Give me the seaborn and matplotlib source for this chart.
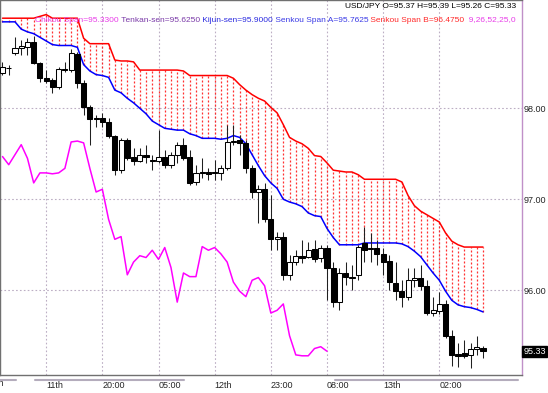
import numpy as np
import pandas as pd
import matplotlib
matplotlib.use("Agg")
import matplotlib.pyplot as plt
import seaborn as sns
from matplotlib.lines import Line2D

# ---------------- data (USD/JPY, Ichimoku) ----------------
opens = [98.39, 98.44, 98.61, 98.66, 98.67, 98.73, 98.50, 98.33, 98.31, 98.23,
         98.43, 98.42, 98.60, 98.28, 98.01, 97.89, 97.89, 97.85, 97.70, 97.32,
         97.65, 97.47, 97.42, 97.49, 97.43, 97.42, 97.47, 97.38, 97.49, 97.60,
         97.47, 97.19, 97.30, 97.30, 97.30, 97.29, 97.34, 97.63, 97.65, 97.62,
         97.34, 97.08, 97.11, 96.78, 96.56, 96.59, 96.17, 96.31, 96.38, 96.37,
         96.45, 96.36, 96.47, 96.25, 95.87, 96.19, 96.14, 96.17, 96.52, 96.45,
         96.47, 96.40, 96.32, 96.08, 95.99, 95.93, 96.11, 96.14, 96.05, 95.75,
         95.77, 95.85, 95.50, 95.30, 95.31, 95.29, 95.36, 95.37]
highs = [98.51, 98.48, 98.78, 98.75, 98.77, 98.79, 98.51, 98.42, 98.33, 98.45,
         98.51, 98.65, 98.62, 98.31, 98.04, 97.93, 97.95, 97.89, 97.71, 97.67,
         97.67, 97.56, 97.56, 97.60, 97.49, 97.76, 97.54, 97.52, 97.63, 97.67,
         97.54, 97.38, 97.45, 97.34, 97.43, 97.38, 97.82, 97.82, 97.71, 97.65,
         97.38, 97.16, 97.18, 97.05, 96.64, 96.64, 96.39, 96.44, 96.55, 96.53,
         96.55, 96.50, 96.50, 96.31, 96.25, 96.31, 96.28, 96.50, 96.69, 96.63,
         96.55, 96.47, 96.39, 96.31, 96.11, 96.25, 96.25, 96.28, 96.11, 95.93,
         95.98, 95.89, 95.56, 95.42, 95.45, 95.42, 95.50, 95.39]
lows = [98.37, 98.37, 98.59, 98.59, 98.59, 98.49, 98.29, 98.28, 98.17, 98.21,
        98.40, 98.40, 98.22, 97.93, 97.60, 97.79, 97.79, 97.67, 97.27, 97.29,
        97.43, 97.38, 97.41, 97.40, 97.32, 97.40, 97.34, 97.34, 97.40, 97.43,
        97.16, 97.16, 97.23, 97.21, 97.21, 97.21, 97.32, 97.60, 97.49, 97.29,
        97.01, 96.74, 96.75, 96.44, 96.44, 96.11, 96.11, 96.28, 96.30, 96.36,
        96.31, 96.31, 95.89, 95.82, 95.78, 96.06, 96.00, 96.11, 96.31, 96.31,
        96.28, 96.17, 96.00, 95.89, 95.82, 95.89, 96.04, 96.00, 95.73, 95.72,
        95.74, 95.48, 95.17, 95.16, 95.26, 95.15, 95.29, 95.26]
closes = [98.45, 98.44, 98.66, 98.68, 98.73, 98.50, 98.33, 98.30, 98.23, 98.43,
          98.42, 98.61, 98.28, 98.01, 97.88, 97.88, 97.85, 97.70, 97.32, 97.65,
          97.45, 97.42, 97.49, 97.47, 97.42, 97.47, 97.38, 97.49, 97.60, 97.45,
          97.18, 97.29, 97.29, 97.28, 97.29, 97.34, 97.63, 97.64, 97.62, 97.34,
          97.08, 97.11, 96.78, 96.56, 96.59, 96.17, 96.31, 96.38, 96.36, 96.44,
          96.34, 96.47, 96.25, 95.87, 96.19, 96.15, 96.15, 96.48, 96.44, 96.47,
          96.40, 96.31, 96.09, 95.99, 95.93, 96.11, 96.14, 96.05, 95.75, 95.78,
          95.85, 95.50, 95.29, 95.28, 95.28, 95.36, 95.38, 95.33]
senkou_a = [98.95, 98.95, 98.95, 98.87, 98.84, 98.82, 98.78, 98.74, 98.70, 98.69,
            98.69, 98.69, 98.67, 98.48, 98.41, 98.37, 98.36, 98.34, 98.20, 98.17,
            98.11, 98.06, 98.00, 97.94, 97.86, 97.82, 97.78, 97.77, 97.76, 97.76,
            97.72, 97.70, 97.67, 97.67, 97.67, 97.66, 97.67, 97.70, 97.68, 97.61,
            97.49, 97.37, 97.26, 97.18, 97.12, 97.00, 96.97, 96.95, 96.92, 96.85,
            96.82, 96.81, 96.68, 96.58, 96.50, 96.50, 96.50, 96.50, 96.52, 96.52,
            96.52, 96.52, 96.52, 96.52, 96.51, 96.48, 96.43, 96.37, 96.28, 96.19,
            96.11, 95.99, 95.89, 95.84, 95.82, 95.81, 95.79, 95.7625]
senkou_b = [98.99, 98.99, 98.99, 98.99, 98.99, 98.99, 99.01, 99.03, 98.99, 98.99,
            98.99, 98.99, 98.99, 98.77, 98.71, 98.71, 98.71, 98.71, 98.53, 98.52,
            98.52, 98.51, 98.42, 98.42, 98.42, 98.42, 98.42, 98.42, 98.42, 98.41,
            98.36, 98.36, 98.36, 98.36, 98.36, 98.36, 98.36, 98.33, 98.26, 98.20,
            98.15, 98.11, 98.08, 98.01, 97.95, 97.82, 97.68, 97.64, 97.61, 97.56,
            97.48, 97.47, 97.40, 97.32, 97.31, 97.30, 97.30, 97.27, 97.22, 97.22,
            97.22, 97.22, 97.22, 97.22, 97.19, 97.04, 96.93, 96.87, 96.83, 96.79,
            96.75, 96.63, 96.54, 96.50, 96.475, 96.475, 96.475, 96.475]
chikou_shift = 25
tick_bars = [7, 16, 25, 34, 43, 52, 61, 70]
tick_labels = ["11th", "20:00", "05:00", "12th", "23:00", "08:00", "13th", "02:00"]
prev_label = ("10th", -2)
price_ticks = [96.0, 97.0, 98.0]
last_price = 95.33
header = "USD/JPY O=95.37 H=95.39 L=95.26 C=95.33"
legend_parts = [("Chikou Span=95.3300", "#e83ce8"),
                (" Tenkan-sen=95.6250", "#7a3aa8"),
                (" Kijun-sen=95.9000", "#2a2ae0"),
                (" Senkou Span A=95.7625", "#3a3ae6"),
                (" Senkou Span B=96.4750", "#ff2a2a"),
                ("  9,26,52,25,0", "#e83ce8")]

# ---------------- figure ----------------
sns.set_style("white")
plt.rcParams["font.family"] = ["Liberation Sans", "DejaVu Sans"]

W, H = 548, 393
fig = plt.figure(figsize=(W / 100, H / 100), dpi=100)
fig.patch.set_facecolor("white")
ax = fig.add_axes([0, 18 / H, 522 / W, 375 / H])

idx = np.arange(len(closes))
o = np.array(opens); c = np.array(closes)
hi = np.array(highs); lo = np.array(lows)

# cloud hatch
ax.vlines(idx, senkou_a, senkou_b, colors="#ff1a1a", linestyles=(0, (1.6, 1.6)),
          lw=0.9, zorder=1, alpha=0.9)

df = pd.DataFrame({"bar": idx, "a": senkou_a, "b": senkou_b})
sns.lineplot(data=df, x="bar", y="b", color="#ff0000", lw=1.1, ax=ax, zorder=2)
sns.lineplot(data=df, x="bar", y="a", color="#0000ff", lw=1.1, ax=ax, zorder=2)
ch = pd.DataFrame({"bar": idx[:-chikou_shift], "c": c[chikou_shift:]})
sns.lineplot(data=ch, x="bar", y="c", color="#ff00ff", lw=1.1, ax=ax, zorder=2)

# candles
ax.vlines(idx, lo, hi, colors="#202020", lw=0.75, zorder=3)
up = c >= o
bot = np.minimum(o, c); hgt = np.abs(c - o)
ax.bar(idx[up], hgt[up], bottom=bot[up], width=0.82, facecolor="white",
       edgecolor="black", lw=0.75, zorder=4)
ax.bar(idx[~up], hgt[~up], bottom=bot[~up], width=0.82, facecolor="black",
       edgecolor="black", lw=0.75, zorder=4)

ax.set_xlim(-0.4, 83.25)
ax.set_ylim(95.069, 99.19)
ax.set_xlabel(""); ax.set_ylabel("")

ax.set_xticks(tick_bars)
ax.set_xticklabels(tick_labels, ha="left", fontsize=6.5)
ax.tick_params(axis="x", length=0, pad=4)
ax.yaxis.tick_right()
ax.set_yticks(price_ticks)
ax.set_yticklabels([f"{v:.2f}" for v in price_ticks], fontsize=6.5)
ax.tick_params(axis="y", length=0, pad=1.5)
ax.grid(True, color="#bcaec4", linestyle=(0, (1.5, 2)), lw=0.8, zorder=0)

for s in ["left", "top", "bottom"]:
    ax.spines[s].set_color("#707070"); ax.spines[s].set_linewidth(1)
ax.spines["right"].set_color("#c090c8"); ax.spines["right"].set_linewidth(1)

ax.text(prev_label[1] - 0.6, -0.012, prev_label[0],
        transform=ax.get_xaxis_transform(),
        ha="left", va="top", fontsize=6.5, clip_on=False)

ax.text(1.003, last_price, f"{last_price:.2f}", transform=ax.get_yaxis_transform(),
        color="white", fontsize=6.5, ha="left", va="center",
        bbox=dict(boxstyle="square,pad=0.12", fc="black", ec="black"))

# strips below axis
for x0, x1 in [(0, 16), (35, 184), (335, 518)]:
    fig.add_artist(Line2D([x0 / W, x1 / W], [1 - 380 / H] * 2,
                          transform=fig.transFigure, color="#b4acbc", lw=1.5))

# header texts
fs = 6.0
fig.text(516 / W, 1 - 7 / H, header, ha="right", va="center", fontsize=fs,
         color="black")
renderer = fig.canvas.get_renderer()
x = 516
for txt, col in reversed(legend_parts):
    t = fig.text(x / W, 1 - 20 / H, txt, ha="right", va="center", fontsize=fs,
                 color=col)
    bb = t.get_window_extent(renderer)
    x = bb.x0

fig.savefig("out.png", dpi=100)
